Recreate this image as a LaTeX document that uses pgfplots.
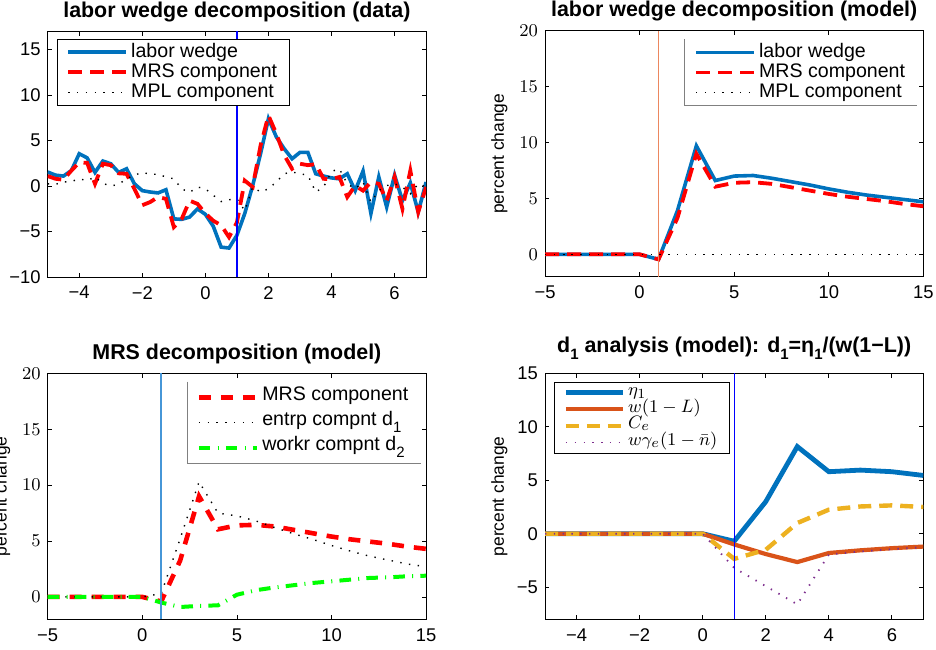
\documentclass[border=0pt]{standalone}
\usepackage{pgfplots}
\pgfplotsset{compat=1.18}
\usepackage{fontspec}
\setmainfont{Liberation Sans}

\definecolor{mblue}{RGB}{0,114,189}
\definecolor{morange}{RGB}{217,83,25}
\definecolor{myellow}{RGB}{237,177,32}
\definecolor{mpurple}{RGB}{126,47,142}
\definecolor{vorange}{RGB}{236,135,95}
\definecolor{vblue}{RGB}{70,150,215}

\newcommand\sub[1]{\raisebox{-3.6pt}{\fontsize{7.5}{7.5}\selectfont #1}}

\pgfplotsset{
  mat/.style={
    scale only axis, width=189.2pt, height=123pt,
    axis line style={line width=0.5pt},
    tick align=inside, major tick length=2.2pt,
    every tick/.style={black, line width=0.4pt},
    tick label style={font=\fontsize{9.2}{10}\selectfont},
    xticklabel style={yshift=-1pt},
    title style={font=\fontsize{10.7}{12}\selectfont\bfseries, at={(0.5,1)}, anchor=base, yshift=1pt},
    ylabel style={font=\fontsize{8.7}{10}\selectfont, at={(axis description cs:-0.1207,0.5)}, anchor=center},
    legend cell align=left,
    legend image code/.code={\draw[##1] (0pt,0pt) -- (29pt,0pt);},
    legend style={font=\fontsize{9.8}{11}\selectfont, anchor=north west,
      inner xsep=4.4pt, inner ysep=1.5pt, row sep=0pt,
      nodes={inner xsep=1.6pt, inner ysep=0.5pt, text height=7pt, text depth=2pt}},
  },
  lw/.style={mblue, line width=1.8pt},
  mrs/.style={red, line width=1.9pt, dash pattern=on 7pt off 4pt},
  dot/.style={black, line width=0.7pt, dash pattern=on 0.7pt off 3.7pt},
}

\begin{document}
\begin{tikzpicture}

% top left: data
\begin{axis}[mat, at={(23.85pt,-15.6pt)}, anchor=north west,
  title={labor wedge decomposition (data)},
  xmin=-5, xmax=7, ymin=-10, ymax=17,
  xtick={-4,-2,0,2,4,6}, xticklabels={−4,−2,0,2,4,6},
  ytick={-10,-5,0,5,10,15}, yticklabels={−10,−5,0,5,10,15},
  legend style={at={(axis description cs:0.0246,0.969)}, draw=black}]
\addplot[lw] coordinates {
(-5,1.54) (-4.75,1.2) (-4.5,1.1) (-4.25,1.7) (-4,3.55) (-3.75,3.1) (-3.5,1.5) (-3.25,2.75)
(-3,2.45) (-2.75,1.5) (-2.5,1.9) (-2.25,0.25) (-2,-0.5) (-1.75,-0.65) (-1.5,-0.75) (-1.25,-0.4)
(-1,-3.6) (-0.75,-3.65) (-0.5,-3.4) (-0.25,-2.5) (0,-3.1) (0.25,-4.4) (0.5,-6.7) (0.75,-6.8)
(1,-5.4) (1.25,-3.0) (1.5,0.05) (1.75,3.55) (2,7.4) (2.25,5.4) (2.5,4.1) (2.75,3.0)
(3,3.7) (3.25,3.7) (3.5,1.35) (3.75,1.1) (4,0.9) (4.25,0.8) (4.5,1.35) (4.75,-0.5)
(5,1.65) (5.25,-3.0) (5.5,1.0) (5.75,-2.3) (6,1.2) (6.25,-1.6) (6.5,0.35) (6.75,-2.85) (7,0.45)};
\addlegendentry{labor wedge}
\addplot[mrs] coordinates {
(-5,1.1) (-4.75,0.8) (-4.5,0.7) (-4.25,1.7) (-4,2.6) (-3.75,2.55) (-3.5,0.25) (-3.25,2.45)
(-3,2.3) (-2.75,1.4) (-2.5,1.35) (-2.25,-0.3) (-2,-2.1) (-1.75,-1.75) (-1.5,-1.2) (-1.25,-1.4)
(-1,-4.5) (-0.75,-3.6) (-0.5,-1.6) (-0.25,-1.95) (0,-3.0) (0.25,-3.8) (0.5,-4.3) (0.75,-5.6)
(1,-4.0) (1.25,0.6) (1.5,-0.1) (1.75,4.45) (2,7.75) (2.25,5.75) (2.5,3.4) (2.75,1.9)
(3,2.45) (3.25,2.3) (3.5,2.4) (3.75,0.8) (4,0.75) (4.25,1.0) (4.5,-1.2) (4.75,0.05)
(5,-0.5) (5.25,0.45) (5.5,0.25) (5.75,-1.6) (6,1.0) (6.25,-2.5) (6.5,1.7) (6.75,-2.85) (7,-0.1)};
\addlegendentry{MRS component}
\addplot[dot] coordinates {
(-5,0.25) (-4.75,0.2) (-4.5,0.45) (-4.25,0.5) (-4,0.8) (-3.75,0.6) (-3.5,1.0) (-3.25,0.3)
(-3,0.0) (-2.75,0.2) (-2.5,0.8) (-2.25,1.2) (-2,1.5) (-1.75,1.3) (-1.5,1.3) (-1.25,1.0)
(-1,0.8) (-0.75,-0.3) (-0.5,-0.7) (-0.25,-0.1) (0,-0.3) (0.25,-1.0) (0.5,-1.7) (0.75,-1.5)
(1,-1.4) (1.25,-2.7) (1.5,-0.1) (1.75,-0.65) (2,-0.3) (2.25,0.45) (2.5,1.35) (2.75,1.55)
(3,1.35) (3.25,1.2) (3.5,-0.65) (3.75,-0.1) (4,1.6) (4.25,1.9) (4.5,0.25) (4.75,-0.3)
(5,0.45) (5.25,-1.75) (5.5,-0.5) (5.75,0.05) (6,0.25) (6.25,-0.1) (6.5,-0.85) (6.75,0.25) (7,-0.1)};
\addlegendentry{MPL component}
\addplot[blue, line width=0.6pt, forget plot] coordinates {(1,-10) (1,17)};
\end{axis}

% top right: model
\begin{axis}[mat, at={(272.5pt,-15.35pt)}, anchor=north west,
  title={labor wedge decomposition (model)},
  ylabel={percent change},
  xmin=-5, xmax=15, ymin=-2, ymax=20,
  xtick={-5,0,5,10,15}, xticklabels={−5,0,5,10,15},
  ytick={0,5,10,15,20},
  legend style={at={(axis description cs:0.3697,0.966)}, draw=none, name=leg2}]
\addplot[lw] coordinates {
(-5,0) (-4,0) (-3,0) (-2,0) (-1,0) (0,0) (1,-0.45) (2,3.9) (3,9.7) (4,6.6) (5,7.0)
(6,7.05) (7,6.8) (8,6.5) (9,6.2) (10,5.85) (11,5.55) (12,5.3) (13,5.1) (14,4.9) (15,4.7)};
\addlegendentry{labor wedge}
\addplot[mrs] coordinates {
(-5,0) (-4,0) (-3,0) (-2,0) (-1,0) (0,0) (1,-0.45) (2,3.25) (3,9.0) (4,6.05) (5,6.4)
(6,6.45) (7,6.3) (8,6.0) (9,5.7) (10,5.4) (11,5.15) (12,4.95) (13,4.75) (14,4.5) (15,4.3)};
\addlegendentry{MRS component}
\addplot[dot] coordinates {
(-5,0) (-4,0) (-3,0) (-2,0) (-1,0) (0,0) (1,0) (2,0) (3,0) (4,0) (5,0)
(6,0) (7,0) (8,0) (9,0) (10,0) (11,0) (12,0) (13,0) (14,0) (15,0)};
\addlegendentry{MPL component}
\addplot[vorange, line width=0.6pt, forget plot] coordinates {(1,-2) (1,20)};
\end{axis}
\draw[gray, line width=0.5pt] (leg2.north west) -- (leg2.south west) -- (leg2.south east);

% bottom left: MRS decomposition
\begin{axis}[mat, at={(23.85pt,-186.65pt)}, anchor=north west,
  title={MRS decomposition (model)},
  ylabel={percent change},
  xmin=-5, xmax=15, ymin=-2, ymax=20,
  xtick={-5,0,5,10,15}, xticklabels={−5,0,5,10,15},
  ytick={0,5,10,15,20},
  legend style={at={(axis description cs:0.369,0.966)}, draw=none, name=leg3,
    nodes={text height=7pt, text depth=4.5pt}}]
\addplot[red, line width=2.3pt, dash pattern=on 6pt off 5pt] coordinates {
(-5,0) (-4,0) (-3,0) (-2,0) (-1,0) (0,0) (1,-0.4) (2,3.25) (3,9.0) (4,6.05) (5,6.4)
(6,6.45) (7,6.3) (8,6.0) (9,5.7) (10,5.4) (11,5.15) (12,4.95) (13,4.75) (14,4.5) (15,4.3)};
\addlegendentry{MRS component}
\addplot[dot] coordinates {
(-5,0) (-4,0) (-3,0) (-2,0) (-1,0) (0,0) (1,0.3) (2,5.2) (3,10.3) (4,7.5) (5,7.25)
(6,6.8) (7,6.2) (8,5.65) (9,5.15) (10,4.6) (11,4.1) (12,3.65) (13,3.3) (14,2.95) (15,2.7)};
\addlegendentry{entrp compnt d\sub{1}}
\addplot[green, line width=2pt, dash pattern=on 5.8pt off 3.6pt on 0.5pt off 3.6pt] coordinates {
(-5,0) (-4,0) (-3,0) (-2,0) (-1,0) (0,0) (1,-0.5) (2,-0.9) (3,-0.8) (4,-0.75) (5,0.2)
(6,0.6) (7,0.85) (8,1.05) (9,1.25) (10,1.4) (11,1.55) (12,1.7) (13,1.75) (14,1.85) (15,1.9)};
\addlegendentry{workr compnt d\sub{2}}
\addplot[vblue, line width=0.8pt, forget plot] coordinates {(1,-2) (1,20)};
\end{axis}
\draw[gray, line width=0.5pt] (leg3.north west) -- (leg3.south west) -- (leg3.south east);

% bottom right: d1 analysis
\begin{axis}[mat, at={(272.5pt,-186.65pt)}, anchor=north west,
  title={d\sub{1} analysis (model): d\sub{1}=η\sub{1}/(w(1−L))},
  title style={yshift=3.5pt},
  ylabel={percent change},
  xmin=-5, xmax=7, ymin=-8, ymax=15,
  xtick={-4,-2,0,2,4,6}, xticklabels={−4,−2,0,2,4,6},
  ytick={-5,0,5,10,15}, yticklabels={−5,0,5,10,15},
  legend image code/.code={\draw[#1] (0pt,0pt) -- (28.3pt,0pt);},
  legend style={at={(axis description cs:0.0246,0.966)}, draw=black,
    font=\fontsize{9.5}{10}\selectfont, inner ysep=1.2pt,
    nodes={inner ysep=0pt, text height=5.6pt, text depth=2.7pt}}]
\addplot[mblue, line width=2.4pt] coordinates {
(-5,0) (-4,0) (-3,0) (-2,0) (-1,0) (0,0) (1,-0.7) (2,3.0) (3,8.15) (4,5.8) (5,5.95) (6,5.8) (7,5.45)};
\addlegendentry{$\eta_1$}
\addplot[morange, line width=2.1pt] coordinates {
(-5,0) (-4,0) (-3,0) (-2,0) (-1,0) (0,0) (1,-1.0) (2,-1.9) (3,-2.65) (4,-1.8) (5,-1.55) (6,-1.35) (7,-1.2)};
\addlegendentry{$w(1-L)$}
\addplot[myellow, line width=2.2pt, dash pattern=on 6.5pt off 4pt] coordinates {
(-5,0) (-4,0) (-3,0) (-2,0) (-1,0) (0,0) (1,-2.35) (2,-1.5) (3,1.0) (4,2.25) (5,2.55) (6,2.65) (7,2.5)};
\addlegendentry{$C_e$}
\addplot[mpurple, line width=0.9pt, dash pattern=on 0.7pt off 3.7pt] coordinates {
(-5,0) (-4,0) (-3,0) (-2,0) (-1,0) (0,0) (1,-3.2) (2,-4.9) (3,-6.6) (4,-1.95) (5,-1.65) (6,-1.45) (7,-1.25)};
\addlegendentry{$w\gamma_e(1-\bar{n})$}
\addplot[blue, line width=0.6pt, forget plot] coordinates {(1,-8) (1,15)};
\end{axis}

\pgfresetboundingbox
\path[use as bounding box] (0,0) rectangle (468pt,-324.5pt);
\end{tikzpicture}
\end{document}
